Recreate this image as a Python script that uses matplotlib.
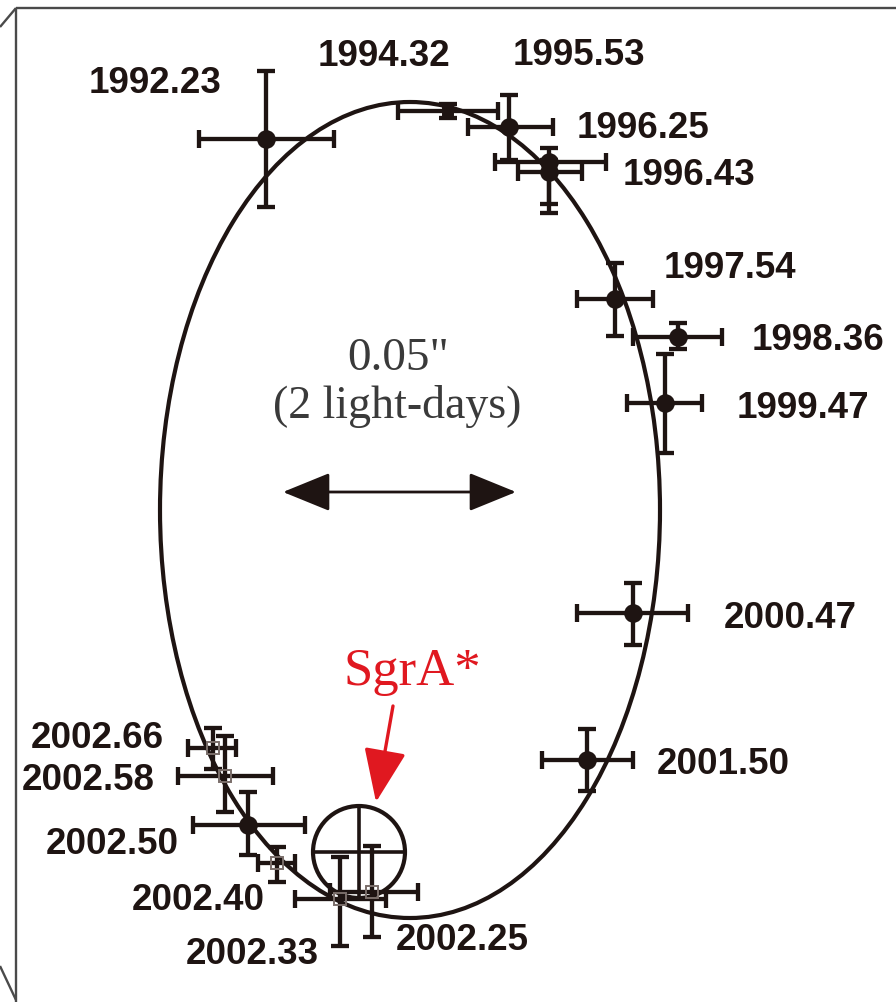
import matplotlib
matplotlib.use("Agg")
import matplotlib.pyplot as plt
from matplotlib.patches import Ellipse, Circle

# ---- data (sky offsets, drawing units, y grows downward) ----
epochs = ["1992.23", "1994.32", "1995.53", "1996.25", "1996.43", "1997.54",
          "1998.36", "1999.47", "2000.47", "2001.50", "2002.66", "2002.58",
          "2002.50", "2002.40", "2002.33", "2002.25"]
pos_x = [266, 448, 509, 549, 549, 615, 678, 665, 633, 587, 213, 225, 248, 277, 340, 372]
pos_y = [139, 111, 127, 162, 172, 299, 337, 403, 613, 760, 748, 776, 825, 863, 899, 892]
x_lo = [199, 398, 468, 495, 518, 577, 633, 627, 577, 542, 188, 178, 193, 258, 295, 330]
x_hi = [334, 498, 553, 606, 582, 653, 722, 702, 688, 633, 236, 273, 305, 295, 386, 418]
y_lo = [71, 104, 95, 148, 160, 263, 323, 354, 583, 729, 728, 736, 792, 847, 857, 846]
y_hi = [207, 118, 160, 204, 213, 336, 349, 453, 645, 791, 769, 812, 855, 882, 946, 937]
marker_kind = ["dot", "block", "dot", "dot", "dot", "dot", "dot", "dot", "dot",
               "dot", "open", "open", "dot", "open", "open", "open"]

label_x = [155, 384, 579, 643, 689, 730, 818, 803, 790, 723, 97, 88, 112, 198, 252, 462]
label_y = [83, 56, 55, 128, 175, 268, 340, 408, 618, 765, 738, 780, 845, 900, 955, 940]

# best-fit orbit
orbit_center = (410, 510)
orbit_width = 500
orbit_height = 816

# Sgr A* position and its error circle
sgr_x, sgr_y, sgr_r = 359, 852, 46

# scale bar
scale_x0, scale_x1, scale_y = 283, 516, 492

INK = "#1e1412"
RED = "#e01820"

fig = plt.figure(figsize=(8.96, 10.02), dpi=100)
ax = fig.add_axes([0, 0, 1, 1])
ax.set_xlim(0, 896)
ax.set_ylim(1002, 0)
ax.axis("off")

# frame (page edge)
frame = [([16, 896], [8, 8]), ([16, 16], [8, 1002]),
         ([16, 0], [8, 27]), ([0, 16], [966, 1000])]
for fx, fy in frame:
    ax.plot(fx, fy, color="#4a4a4a", lw=1.7, solid_capstyle="butt")

# orbit
ax.add_patch(Ellipse(orbit_center, orbit_width, orbit_height, fill=False,
                     ec=INK, lw=3.0, zorder=2))

# Sgr A* circle with cross
ax.add_patch(Circle((sgr_x, sgr_y), sgr_r, fill=False, ec=INK, lw=3.0, zorder=3))
ax.plot([sgr_x - sgr_r, sgr_x + sgr_r], [sgr_y, sgr_y], color=INK, lw=2.6, zorder=3)
ax.plot([sgr_x, sgr_x], [sgr_y - sgr_r, sgr_y + sgr_r], color=INK, lw=2.6, zorder=3)

# measured positions
for i in range(len(epochs)):
    xe = [[pos_x[i] - x_lo[i]], [x_hi[i] - pos_x[i]]]
    ye = [[pos_y[i] - y_lo[i]], [y_hi[i] - pos_y[i]]]
    kind = marker_kind[i]
    if kind == "dot":
        mk, ms, mfc, mec = "o", 12, INK, INK
    elif kind == "block":
        mk, ms, mfc, mec = "s", 7, INK, INK
    else:
        mk, ms, mfc, mec = "s", 9, "none", "#7a6e6a"
    ax.errorbar(pos_x[i], pos_y[i], xerr=xe, yerr=ye, fmt="none",
                ecolor=INK, elinewidth=3.1, capsize=6.5, capthick=3.1, zorder=4)
    ax.plot(pos_x[i], pos_y[i], marker=mk, ms=ms, mfc=mfc, mec=mec,
            mew=1.4, ls="none", zorder=5)
    ax.text(label_x[i], label_y[i], epochs[i], ha="center", va="center",
            fontsize=26.5, fontweight="bold", family="Liberation Sans",
            color=INK, zorder=6)

# scale annotation
ax.text(398, 359, "0.05\"", ha="center", va="center", fontsize=34,
        family="Liberation Serif", color="#3a3a3a")
ax.text(397, 407, "(2 light-days)", ha="center", va="center", fontsize=33,
        family="Liberation Serif", color="#3a3a3a")
ax.annotate("", xy=(scale_x0, scale_y), xytext=(scale_x1, scale_y),
            arrowprops=dict(arrowstyle="<|-|>,head_length=1.35,head_width=0.55",
                            color=INK, lw=2.0, shrinkA=0, shrinkB=0,
                            mutation_scale=22))

# Sgr A* label and arrow
ax.text(412, 672, "SgrA*", ha="center", va="center", fontsize=38,
        family="Liberation Serif", color=RED)
ax.annotate("", xy=(376, 802), xytext=(393, 706),
            arrowprops=dict(arrowstyle="-|>,head_length=1.5,head_width=0.6",
                            color=RED, lw=2.4, shrinkA=0, shrinkB=0,
                            mutation_scale=22))

fig.savefig("out.png", dpi=100, facecolor="white")
